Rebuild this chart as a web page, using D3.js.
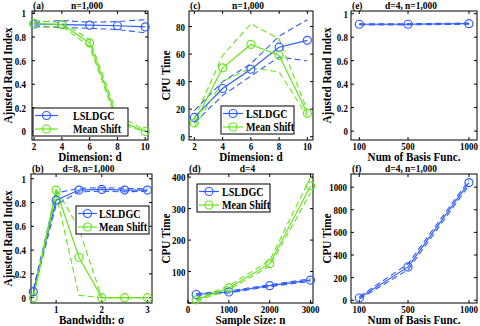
<!DOCTYPE html>
<html>
<head>
<meta charset="utf-8">
<script src="https://cdn.jsdelivr.net/npm/d3@7"></script>
<style>
  body { margin: 0; background: #fff; }
  svg text { font-family: "Liberation Serif", "Times New Roman", serif; font-weight: bold; fill: #000; }
</style>
</head>
<body>
<svg id="chart" width="480" height="326"></svg>
<script>
// ---- data ----
const dims = [2, 4, 6, 8, 10];
const aLsl = [0.91, 0.905, 0.90, 0.895, 0.885];
const aLslHi = [0.925, 0.94, 0.925, 0.93, 0.947];
const aLslLo = [0.895, 0.88, 0.874, 0.863, 0.835];
const aMs = [0.915, 0.905, 0.75, 0.10, 0.0];
const aMsHi = [0.94, 0.92, 0.78, 0.14, 0.01];
const aMsLo = [0.88, 0.89, 0.72, 0.07, 0.0];

const cLsl = [14, 35, 49, 65, 70];
const cLslHi = [19, 40, 53, 73, 85];
const cLslLo = [10, 30, 44, 58, 55];
const cMs = [10, 50, 67, 59, 17];
const cMsHi = [13, 59, 82, 71, 19];
const cMsLo = [7, 40, 50, 47, 15];

const sigmas = [0.5, 1, 1.5, 2, 2.5, 3];
const bLsl = [0.05, 0.82, 0.905, 0.91, 0.905, 0.905];
const bLslHi = [0.07, 0.88, 0.92, 0.925, 0.92, 0.915];
const bLslLo = [0.03, 0.78, 0.89, 0.895, 0.89, 0.895];
const bMs = [0.0, 0.905, 0.34, 0.0, 0.0, 0.0];
const bMsHi = [0.0, 0.92, 0.58, 0.0, 0.0, 0.0];
const bMsLo = [0.0, 0.87, 0.02, 0.0, 0.0, 0.0];

const sizes = [200, 1000, 2000, 3000];
const dLsl = [27, 35, 55, 73];
const dLslHi = [30, 38, 58, 77];
const dLslLo = [24, 32, 52, 69];
const dMs = [10, 48, 125, 372];
const dMsHi = [13, 55, 135, 400];
const dMsLo = [6, 42, 117, 350];

const basis = [100, 500, 1000];
const eLsl = [0.91, 0.91, 0.915];
const eLslHi = [0.915, 0.915, 0.92];
const eLslLo = [0.905, 0.905, 0.91];
const fLsl = [20, 295, 1040];
const fLslHi = [32, 322, 1062];
const fLslLo = [10, 270, 1015];

const arTicks = [0, 0.2, 0.4, 0.6, 0.8, 1];

const BLUE = "#2f5bff", GREEN = "#66e41c";

const svg = d3.select("#chart");

// condensed text: the reference type is tall and narrow
function txt(g, x, y, s, size, anchor, sx, rot) {
  return g.append("text")
    .attr("transform", `translate(${x},${y})${rot ? " rotate(-90)" : ""} scale(${sx},1)`)
    .attr("text-anchor", anchor).attr("font-size", size).text(s);
}

function panel(o) {
  const x = d3.scaleLinear().domain(o.xd).range([o.L, o.R]);
  const y = d3.scaleLinear().domain(o.yd).range([o.B, o.T]);
  const g = svg.append("g");

  g.append("rect").attr("x", o.L).attr("y", o.T)
    .attr("width", o.R - o.L).attr("height", o.B - o.T)
    .attr("fill", "none").attr("stroke", "#000").attr("stroke-width", 1);

  // ticks, inside and mirrored like MATLAB
  const tl = 3;
  o.xt.forEach(t => {
    const px = x(t);
    g.append("line").attr("x1", px).attr("x2", px).attr("y1", o.B).attr("y2", o.B - tl).attr("stroke", "#000");
    g.append("line").attr("x1", px).attr("x2", px).attr("y1", o.T).attr("y2", o.T + tl).attr("stroke", "#000");
    txt(g, px, o.B + 9.5, t, 10.5, "middle", 0.85);
  });
  o.yt.forEach(t => {
    const py = y(t);
    g.append("line").attr("x1", o.L).attr("x2", o.L + tl).attr("y1", py).attr("y2", py).attr("stroke", "#000");
    g.append("line").attr("x1", o.R).attr("x2", o.R - tl).attr("y1", py).attr("y2", py).attr("stroke", "#000");
    if (o.skipY0 && t === 0) return;
    txt(g, o.L - o.gap, py + 4, t, 10.5, "end", 0.85);
  });

  txt(g, (o.L + o.R) / 2, o.B + 20.5, o.xl, 11.5, "middle", 0.97);
  txt(g, o.yx, (o.T + o.B) / 2, o.yl, 11.5, "middle", 0.97, true);
  txt(g, o.L + 1, o.T - 2, o.tag, 10.5, "start", 0.9);
  txt(g, (o.L + o.R) / 2 - 3, o.T - 2, o.title, 10.5, "middle", 0.9);

  const line = d3.line().x((d, i) => x(o.xs[i])).y(d => y(d));
  const clip = "clip" + o.tag.replace(/\W/g, "");
  svg.append("clipPath").attr("id", clip).append("rect")
    .attr("x", o.L).attr("y", o.T).attr("width", o.R - o.L).attr("height", o.B - o.T);
  const dg = g.append("g").attr("clip-path", `url(#${clip})`);

  o.series.forEach(s => {
    [s.hi, s.lo].forEach(b => {
      dg.append("path").attr("d", line(b)).attr("fill", "none")
        .attr("stroke", s.c).attr("stroke-width", 1.1).attr("stroke-dasharray", "6,3.5");
    });
    dg.append("path").attr("d", line(s.m)).attr("fill", "none")
      .attr("stroke", s.c).attr("stroke-width", 1.2);
  });
  o.series.forEach(s => {
    g.selectAll(null).data(s.m).enter().append("circle")
      .attr("cx", (d, i) => x(o.xs[i])).attr("cy", d => y(d)).attr("r", 4)
      .attr("fill", "none").attr("stroke", s.c).attr("stroke-width", 1.2);
  });

  // legend: [left, top, width, line start, line end, text x]
  if (o.leg) {
    const [lx, ly, lw, l0, l1, tx] = o.leg;
    const lg = g.append("g").attr("transform", `translate(${lx},${ly})`);
    lg.append("rect").attr("width", lw).attr("height", 28)
      .attr("fill", "#fff").attr("stroke", "#000").attr("stroke-width", 1);
    o.series.forEach((s, i) => {
      const yy = 7.5 + i * 13.5;
      lg.append("line").attr("x1", l0).attr("x2", l1).attr("y1", yy).attr("y2", yy)
        .attr("stroke", s.c).attr("stroke-width", 1.2);
      lg.append("circle").attr("cx", (l0 + l1) / 2).attr("cy", yy).attr("r", 4)
        .attr("fill", "none").attr("stroke", s.c).attr("stroke-width", 1.2);
      txt(lg, tx, yy + 4, s.name, 11.5, "start", 0.88);
    });
  }
}

const lsl = (m, hi, lo) => ({ name: "LSLDGC", c: BLUE, m, hi, lo });
const ms = (m, hi, lo) => ({ name: "Mean Shift", c: GREEN, m, hi, lo });

panel({ tag: "(a)", title: "n=1,000", L: 32, T: 11, R: 148, B: 140, yx: 12, gap: 6,
  xd: [1.85, 10.2], yd: [-0.072, 1.02], xs: dims, xt: dims, yt: arTicks,
  xl: "Dimension: d", yl: "Ajusted Rand Index", leg: [33, 108, 95, 2, 25, 40],
  series: [lsl(aLsl, aLslHi, aLslLo), ms(aMs, aMsHi, aMsLo)] });

panel({ tag: "(c)", title: "n=1,000", L: 189, T: 11, R: 313, B: 140, yx: 170, gap: 4,
  xd: [1.62, 10.4], yd: [-2.4, 91.3], xs: dims, xt: dims, yt: [0, 20, 40, 60, 80],
  xl: "Dimension: d", yl: "CPU Time", leg: [221, 106, 73, 2, 22, 25],
  series: [lsl(cLsl, cLslHi, cLslLo), ms(cMs, cMsHi, cMsLo)] });

panel({ tag: "(e)", title: "d=4, n=1,000", L: 351, T: 11, R: 477, B: 140, yx: 331, gap: 3,
  xd: [32, 1066], yd: [-0.076, 1.023], xs: basis, xt: basis, yt: arTicks,
  xl: "Num of Basis Func.", yl: "Ajusted Rand Index",
  series: [lsl(eLsl, eLslHi, eLslLo)] });

panel({ tag: "(b)", title: "d=8, n=1,000", L: 31, T: 174, R: 152, B: 303, yx: 12, gap: 5,
  xd: [0.45, 3.1], yd: [-0.045, 1.04], xs: sigmas, xt: [1, 2, 3], yt: arTicks,
  xl: "Bandwidth: σ", yl: "Ajusted Rand Index", leg: [76, 206, 73, 2, 21, 23],
  series: [lsl(bLsl, bLslHi, bLslLo), ms(bMs, bMsHi, bMsLo)] });

panel({ tag: "(d)", title: "d=4", L: 188, T: 174, R: 313, B: 303, yx: 170, gap: 2.5, skipY0: true,
  xd: [0, 3060], yd: [0, 410], xs: sizes, xt: [0, 1000, 2000, 3000], yt: [0, 100, 200, 300, 400],
  xl: "Sample Size: n", yl: "CPU Time", leg: [197, 184, 73, 2, 22, 25],
  series: [lsl(dLsl, dLslHi, dLslLo), ms(dMs, dMsHi, dMsLo)] });

panel({ tag: "(f)", title: "d=4, n=1,000", L: 351, T: 174, R: 477, B: 303, yx: 331, gap: 4,
  xd: [32, 1066], yd: [-24, 1116], xs: basis, xt: basis, yt: [0, 200, 400, 600, 800, 1000],
  xl: "Num of Basis Func.", yl: "CPU Time",
  series: [lsl(fLsl, fLslHi, fLslLo)] });
</script>
</body>
</html>
